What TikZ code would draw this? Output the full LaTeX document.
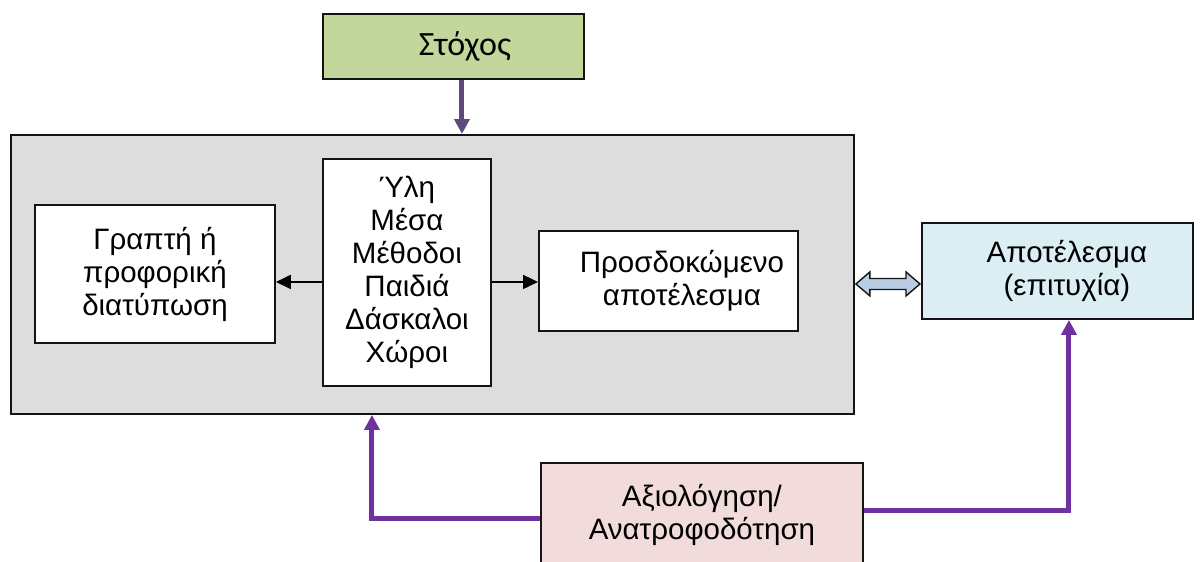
\documentclass[tikz,border=0pt]{standalone}
\usepackage{fontspec}
\setmainfont{Liberation Sans}
\newfontfamily\calfont{Carlito}
\usetikzlibrary{arrows.meta,positioning,calc}
\definecolor{fredge}{RGB}{20,20,20}
\definecolor{frgoal}{RGB}{195,214,155}
\definecolor{frbase}{RGB}{221,221,221}
\definecolor{frres}{RGB}{218,238,243}
\definecolor{freval}{RGB}{242,220,219}
\definecolor{frlink}{RGB}{185,205,229}
\definecolor{frplum}{RGB}{96,74,123}
\definecolor{frviol}{RGB}{112,48,160}
% left indent for a centred line
\newcommand\padl[1]{\hspace*{#1}}
\tikzset{
  frbox/.style={
    draw=fredge, line width=1.9pt, align=center, inner sep=0pt,
    font=\fontsize{29.5}{33}\selectfont, anchor=north west
  },
  plain/.style={frbox, fill=white},
  goalbox/.style={frbox, fill=frgoal, font=\calfont\fontsize{34}{40}\selectfont},
  resbox/.style={frbox, fill=frres},
  evalbox/.style={frbox, fill=freval},
  arr/.style={-{Triangle[length=15pt,width=14pt]}, draw=black, line width=1.9pt},
  parr/.style={-{Triangle[length=15pt,width=15pt]}, draw=frviol, line width=5pt},
  garr/.style={parr, draw=frplum},
  link/.style={draw=fredge, line width=1.4pt, fill=frlink, line join=miter}
}
\begin{document}
\begin{tikzpicture}[x=1pt, y=-1pt]
  \useasboundingbox (0,0) rectangle (1200,562);
  \clip (0,0) rectangle (1200,562);
  % grey frame with the three inner boxes
  \node[frbox, fill=frbase, minimum width=843, minimum height=279] (frame) at (10,134) {};
  \node[goalbox, minimum width=261, minimum height=65] (goal) at (322,13) {\padl{23pt}Στόχος};
  \node[plain, minimum width=168, minimum height=227] (mid) at (322,158)
    {Ύλη\\Μέσα\\Μέθοδοι\\Παιδιά\\Δάσκαλοι\\Χώροι};
  \node[plain, minimum width=240, minimum height=138] (say) at (34,204)
    {Γραπτή ή\\προφορική\\διατύπωση};
  \node[plain, minimum width=259, minimum height=100] (exp) at (538,230)
    {\padl{27pt}Προσδοκώμενο\\\padl{27pt}αποτέλεσμα};
  \node[resbox, minimum width=271, minimum height=96] (res) at (921,222)
    {\padl{19pt}Αποτέλεσμα\\\padl{19pt}(επιτυχία)};
  \node[evalbox, minimum width=322, minimum height=104] (eval) at (540,462)
    {Αξιολόγηση/\\Ανατροφοδότηση};

  \draw[arr] ($(mid.west)+(0,9.5)$) -- ($(say.east)+(0,8)$);
  \draw[arr] ($(mid.east)+(0,9.5)$) -- ($(exp.west)+(0,1)$);
  \draw[garr] ([xshift=8.5pt]goal.south) -- ([xshift=8.5pt]goal.south |- frame.north);

  % block arrow between frame and result
  \coordinate (la) at ($(frame.east)+(1,9.5)$);
  \coordinate (ra) at ($(res.west)+(-1,13)$);
  \draw[link] (la) -- ++(14,-12) -- ++(0,6.5) -- ($(ra)+(-14,-5.5)$) -- ++(0,-6.5)
    -- (ra) -- ++(-14,12) -- ++(0,-6.5) -- ($(la)+(14,5.5)$) -- ++(0,6.5) -- cycle;

  % feedback lines
  \coordinate (fbl) at ($(frame.south)+(-60.5,0)$);
  \coordinate (fbr) at ($(res.south)+(11.5,0)$);
  \draw[parr] ([yshift=-4pt]eval.west) -| (fbl);
  \draw[parr] ([yshift=4pt]eval.east) -| (fbr);
\end{tikzpicture}
\end{document}
